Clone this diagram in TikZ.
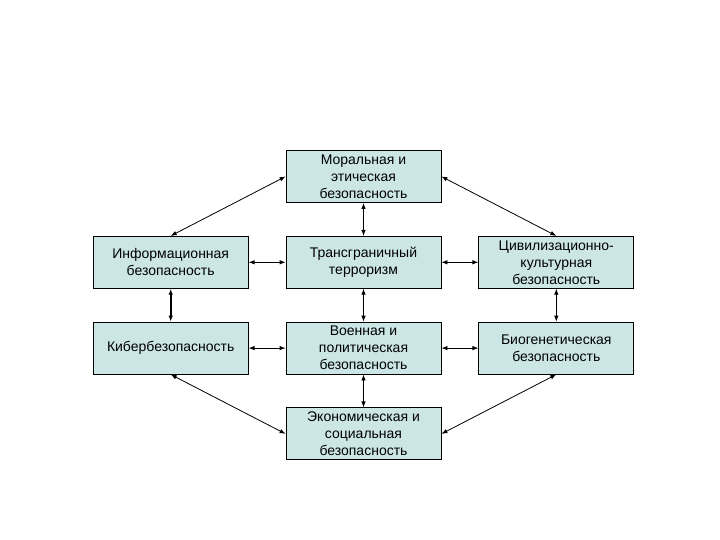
\documentclass[tikz,border=0pt]{standalone}
\usepackage{fontspec}
\setmainfont{Liberation Sans}
\usetikzlibrary{positioning,arrows.meta}
\definecolor{boxfill}{RGB}{204,230,230}

\begin{document}
\begin{tikzpicture}[x=1pt, y=1pt, node distance=33pt and 37pt,
      box/.style={rectangle, draw, line width=0.8pt, fill=boxfill,
                  minimum width=155pt, minimum height=52pt, inner sep=1pt,
                  align=center, font=\fontsize{14}{17}\selectfont},
      arr/.style={{Latex[length=6pt,width=4.5pt]}-{Latex[length=6pt,width=4.5pt]}, line width=0.8pt}]
    \useasboundingbox (0,0) rectangle (720,540);
    \node[box] (moral) at (363.5,363.5) {Моральная и\\этическая\\безопасность};
    \node[box, below=of moral] (terror) {Трансграничный\\терроризм};
    \node[box, left=of terror] (info) {Информационная\\безопасность};
    \node[box, right=of terror] (civil) {Цивилизационно-\\культурная\\безопасность};
    \node[box, below=of terror] (war) {Военная и\\политическая\\безопасность};
    \node[box, left=of war] (cyber) {Кибербезопасность};
    \node[box, right=of war] (bio) {Биогенетическая\\безопасность};
    \node[box, below=of war] (econ) {Экономическая и\\социальная\\безопасность};
    \draw[arr] (moral.west) -- (info.north);
    \draw[arr] (moral.east) -- (civil.north);
    \draw[arr] (moral) -- (terror);
    \draw[arr] (info) -- (terror);
    \draw[arr] (terror) -- (civil);
    \draw[arr, line width=1.6pt] (info) -- (cyber);
    \draw[arr] (terror) -- (war);
    \draw[arr] (civil) -- (bio);
    \draw[arr] (cyber) -- (war);
    \draw[arr] (war) -- (bio);
    \draw[arr] (war) -- (econ);
    \draw[arr] (cyber.south) -- (econ.west);
    \draw[arr] (bio.south) -- (econ.east);
  \end{tikzpicture}
\end{document}
